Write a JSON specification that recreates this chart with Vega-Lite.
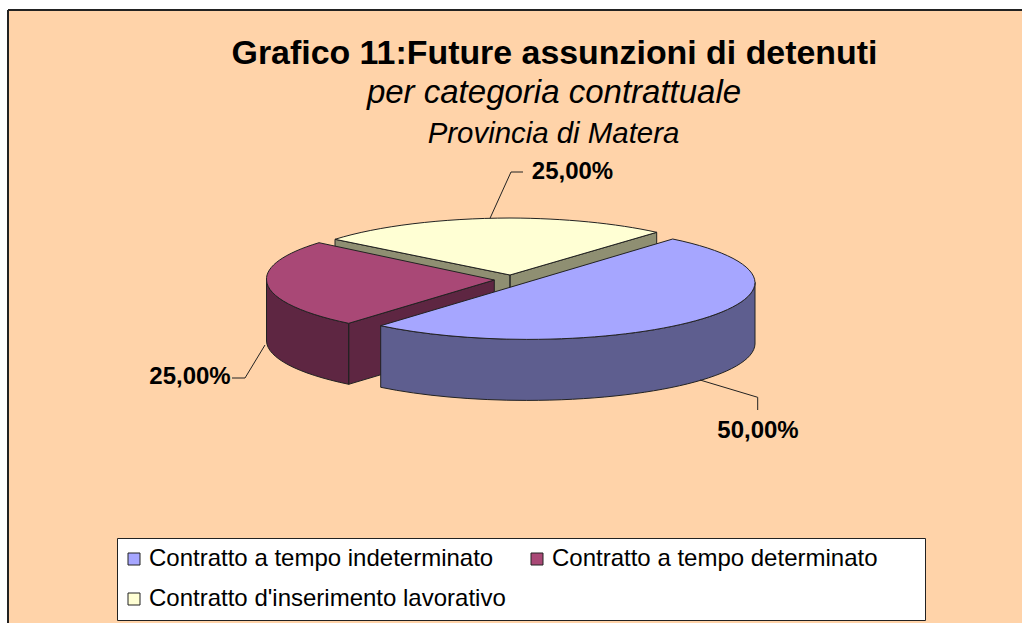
{
"$schema":"https://vega.github.io/schema/vega-lite/v6.json",
"width":1014,"height":613,
"autosize":{"type":"none"},
"padding":{"left":8,"top":10,"right":0,"bottom":0},
"background":"white",
"view":{"fill":"#FFD3A9","stroke":null},
"title":{"text":"Grafico 11:Future assunzioni di detenuti","anchor":"middle","offset":-96,"dx":39.5,"font":"Liberation Sans","fontSize":33.9,"fontWeight":"bold","color":"black","baseline":"bottom"},
"datasets":{"quote":[
{"categoria":"Contratto d'inserimento lavorativo","quota":25,"etichetta":"25,00%"},
{"categoria":"Contratto a tempo determinato","quota":25,"etichetta":"25,00%"},
{"categoria":"Contratto a tempo indeterminato","quota":50,"etichetta":"50,00%"}
]},
"data":{"name":"quote"},
"layer":[
{"mark":{"type":"rule","color":"#222222","strokeWidth":2},"encoding":{"x":{"value":0}}},
{"mark":{"type":"rule","color":"#222222","strokeWidth":2},"encoding":{"y":{"value":0}}},
{"mark":{"type":"point","filled":true,"size":4,"opacity":1,"stroke":"#222222","strokeWidth":1},
"encoding":{
"fill":{"field":"categoria","type":"nominal","legend":null,"scale":{"domain":["Contratto a tempo indeterminato","Contratto a tempo determinato","Contratto d'inserimento lavorativo"],"range":["#5E5E8F","#5E2642","#8F8F72"]}},
"shape":{"field":"categoria","type":"nominal","legend":null,"scale":{"domain":["Contratto d'inserimento lavorativo","Contratto a tempo determinato","Contratto a tempo indeterminato"],"range":[
"M-180 -77.2L-5 -41.5L-5 19.5L-180 -16.2ZM-5 -41.5L141.7 -84.2L141.7 -23.2L-5 19.5Z",
"M-166.3 6.8A228.3 57 0 0 1 -248.5 -36.5L-248.5 24.5A228.3 57 0 0 0 -166.3 67.8ZM-166.3 6.8L-20.7 -36.5L-20.7 24.5L-166.3 67.8Z",
"M-134.3 9.2A228.3 57 0 0 0 11.7 22.9A228.3 57 0 0 0 240 -34.1L240 27.5A228.3 57 0 0 1 11.7 83.9A228.3 57 0 0 1 -134.3 70.8Z"]}}
}},
{"mark":{"type":"point","filled":true,"size":4,"opacity":1,"stroke":"#222222","strokeWidth":1},
"encoding":{
"fill":{"field":"categoria","type":"nominal","scale":{"domain":["Contratto a tempo indeterminato","Contratto a tempo determinato","Contratto d'inserimento lavorativo"],"range":["#A6A6FF","#A94876","#FFFFD4"]},
"legend":{"title":" ","titleOrient":"right","titlePadding":38,"orient":"none","direction":"horizontal","legendX":109,"legendY":528,"columns":2,"columnPadding":23,"rowPadding":16,"padding":9,"fillColor":"white","strokeColor":"#222222","symbolType":"square","symbolSize":144,"symbolOffset":-4,"symbolStrokeColor":"#222222","symbolStrokeWidth":1,"symbolOpacity":1,"labelFont":"Liberation Sans","labelFontSize":24,"labelColor":"black","labelLimit":500,"labelOffset":3}},
"shape":{"field":"categoria","type":"nominal","legend":null,"scale":{"domain":["Contratto d'inserimento lavorativo","Contratto a tempo determinato","Contratto a tempo indeterminato"],"range":[
"M-5 -41.5L-180 -77.2A228.3 57 0 0 1 -5 -98.5A228.3 57 0 0 1 141.7 -84.2Z",
"M-20.7 -36.5L-166.3 6.8A228.3 57 0 0 1 -248.5 -36.5A228.3 57 0 0 1 -196 -73.8Z",
"M-134.3 9.2A228.3 57 0 0 0 11.7 22.9A228.3 57 0 0 0 240 -34.1A228.3 57 0 0 0 157.7 -77.5Z"]}}
}},
{"mark":{"type":"point","filled":false,"size":4,"opacity":1,"stroke":"#222222","strokeWidth":1},
"encoding":{
"shape":{"field":"categoria","type":"nominal","legend":null,"scale":{"domain":["Contratto a tempo indeterminato","Contratto a tempo determinato","Contratto d'inserimento lavorativo"],"range":[
"M185 63.5L242.7 80.8L242.7 93.5",
"M-283 61.5L-270 61.5L-250 28.5",
"M8 -144.5L-4 -144.5L-25 -98.2"]}}
}},
{"transform":[{"filter":"datum.categoria==='Contratto d\\'inserimento lavorativo'"}],"mark":{"type":"text","dx":57.5,"dy":-144.5,"font":"Liberation Sans","fontSize":24,"fontWeight":"bold","color":"black"},"encoding":{"text":{"field":"etichetta"}}},
{"transform":[{"filter":"datum.categoria==='Contratto a tempo determinato'"}],"mark":{"type":"text","dx":-325,"dy":60.5,"font":"Liberation Sans","fontSize":24,"fontWeight":"bold","color":"black"},"encoding":{"text":{"field":"etichetta"}}},
{"transform":[{"filter":"datum.categoria==='Contratto a tempo indeterminato'"}],"mark":{"type":"text","dx":243,"dy":114.5,"font":"Liberation Sans","fontSize":24,"fontWeight":"bold","color":"black"},"encoding":{"text":{"field":"etichetta"}}},
{"data":{"values":[{"testo":"per categoria contrattuale"}]},"mark":{"type":"text","dx":39,"dy":-224,"font":"Liberation Sans","fontSize":33,"fontStyle":"italic","color":"black"},"encoding":{"text":{"field":"testo"}}},
{"data":{"values":[{"testo":"Provincia di Matera"}]},"mark":{"type":"text","dx":38.5,"dy":-183,"font":"Liberation Sans","fontSize":29.4,"fontStyle":"italic","color":"black"},"encoding":{"text":{"field":"testo"}}}
],
"resolve":{"scale":{"fill":"independent","shape":"independent"}}
}
